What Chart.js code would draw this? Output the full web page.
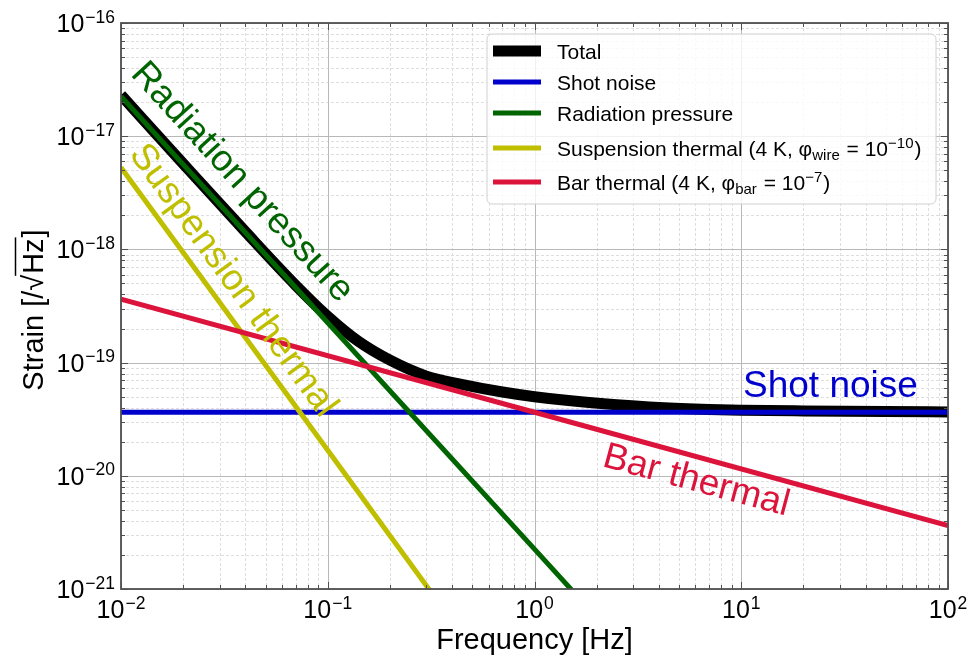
<!DOCTYPE html>
<html>
<head>
<meta charset="utf-8">
<script src="https://cdn.jsdelivr.net/npm/chart.js@4.4.0/dist/chart.umd.min.js"></script>
<style>
  html, body { margin: 0; padding: 0; background: #fff; }
  canvas { display: block; }
</style>
</head>
<body>
<canvas id="chart" width="974" height="657"></canvas>
<script>
// values (frequency in Hz, strain in 1/sqrt(Hz))
const totalFreq   = [0.01, 0.02, 0.04, 0.07, 0.1, 0.14, 0.2, 0.3, 0.45, 0.7, 1, 1.5, 2.5, 4, 7, 10, 20, 50, 100];
const totalStrain = [2.31e-17, 5.71e-18, 1.43e-18, 4.82e-19, 2.56e-19, 1.55e-19, 1.05e-19, 7.6e-20, 6.4e-20,
                     5.5e-20, 5.0e-20, 4.6e-20, 4.25e-20, 4.02e-20, 3.86e-20, 3.8e-20, 3.74e-20, 3.69e-20, 3.67e-20];
const shotFreq    = [0.01, 100];
const shotStrain  = [3.65e-20, 3.65e-20];
const radFreq     = [0.01, 0.1, 1, 2];
const radStrain   = [2.25e-17, 2.25e-19, 2.25e-21, 5.6e-22];
const suspFreq    = [0.01, 0.1, 0.4];
const suspStrain  = [5.3e-18, 1.68e-20, 5.2e-22];
const barFreq     = [0.01, 1, 100];
const barStrain   = [3.64e-19, 3.64e-20, 3.64e-21];

const xTickExps = [-2, -1, 0, 1, 2];
const yTickExps = [-21, -20, -19, -18, -17, -16];

const seriesNames  = ['Total', 'Shot noise', 'Radiation pressure', 'Suspension thermal', 'Bar thermal'];
const seriesColors = ['#000000', '#0000cd', '#006400', '#bfbf00', '#dc143c'];

// legend labels as text runs: n = normal, sub = subscript, sup = superscript
const legendRuns = [
  [['Total', 'n']],
  [['Shot noise', 'n']],
  [['Radiation pressure', 'n']],
  [['Suspension thermal (4 K, ', 'n'], ['φ', 'n'], ['wire', 'sub'], [' = 10', 'n'], ['−10', 'sup'], [')', 'n']],
  [['Bar thermal (4 K, ', 'n'], ['φ', 'n'], ['bar', 'sub'], [' = 10', 'n'], ['−7', 'sup'], [')', 'n']]
];

// in-plot labels: text, anchor (Hz, strain), rotation in degrees
const notes = [
  { text: 'Radiation pressure', f: 0.0385, s: 3.9e-18, rot: 47.6, color: seriesColors[2], align: 'center' },
  { text: 'Suspension thermal', f: 0.0348, s: 5.3e-19, rot: 54, color: seriesColors[3], align: 'center' },
  { text: 'Bar thermal', f: 6.05, s: 9.0e-21, rot: 15, color: seriesColors[4], align: 'center' },
  { text: 'Shot noise', f: 10.2, s: 4.98e-20, rot: 0, color: seriesColors[1], align: 'left' }
];

const FONT = '"Liberation Sans", Arial, Helvetica, sans-serif';
const pts = (fs, ss) => fs.map((f, i) => ({ x: f, y: ss[i] }));

function expText(e) { return e < 0 ? '−' + Math.abs(e) : String(e); }

function drawPow(ctx, e, x, base, align) {
  // 10 with a raised exponent
  ctx.font = '25px ' + FONT;
  const wb = ctx.measureText('10').width;
  ctx.font = '17.5px ' + FONT;
  const sup = expText(e);
  const ws = ctx.measureText(sup).width;
  const w = wb + ws + 1;
  const x0 = align === 'right' ? x - w : x - w / 2;
  ctx.textAlign = 'left';
  ctx.textBaseline = 'alphabetic';
  ctx.font = '25px ' + FONT;
  ctx.fillText('10', x0, base);
  ctx.font = '17.5px ' + FONT;
  ctx.fillText(sup, x0 + wb + 1, base - 9.5);
}

const decorations = {
  id: 'decorations',
  beforeDatasetsDraw(chart) {
    const { ctx, chartArea: a, scales: { x, y } } = chart;
    ctx.save();
    ctx.lineWidth = 1;
    // minor grid
    ctx.strokeStyle = '#dedede';
    ctx.setLineDash([3, 2]);
    ctx.beginPath();
    for (let i = 0; i < xTickExps.length - 1; i++) {
      for (let m = 2; m <= 9; m++) {
        const px = Math.round(x.getPixelForValue(m * Math.pow(10, xTickExps[i]))) + 0.5;
        ctx.moveTo(px, a.top); ctx.lineTo(px, a.bottom);
      }
    }
    for (let i = 0; i < yTickExps.length - 1; i++) {
      for (let m = 2; m <= 9; m++) {
        const py = Math.round(y.getPixelForValue(m * Math.pow(10, yTickExps[i]))) + 0.5;
        ctx.moveTo(a.left, py); ctx.lineTo(a.right, py);
      }
    }
    ctx.stroke();
    // major grid
    ctx.setLineDash([]);
    ctx.strokeStyle = '#b8b8b8';
    ctx.beginPath();
    xTickExps.forEach(e => {
      const px = Math.round(x.getPixelForValue(Math.pow(10, e))) + 0.5;
      ctx.moveTo(px, a.top); ctx.lineTo(px, a.bottom);
    });
    yTickExps.forEach(e => {
      const py = Math.round(y.getPixelForValue(Math.pow(10, e))) + 0.5;
      ctx.moveTo(a.left, py); ctx.lineTo(a.right, py);
    });
    ctx.stroke();
    ctx.restore();
  },
  afterDatasetsDraw(chart) {
    const { ctx, chartArea: a, scales: { x, y } } = chart;
    ctx.save();

    // in-plot labels
    notes.forEach(n => {
      ctx.save();
      ctx.translate(x.getPixelForValue(n.f), y.getPixelForValue(n.s));
      ctx.rotate(n.rot * Math.PI / 180);
      ctx.font = '37px ' + FONT;
      ctx.fillStyle = n.color;
      ctx.textAlign = n.align;
      ctx.textBaseline = n.align === 'left' ? 'alphabetic' : 'middle';
      ctx.fillText(n.text, 0, 0);
      ctx.restore();
    });

    // frame and inward ticks on all sides
    ctx.strokeStyle = '#505050';
    ctx.lineWidth = 1;
    ctx.beginPath();
    for (let i = 0; i < xTickExps.length; i++) {
      for (let m = 1; m <= (i < xTickExps.length - 1 ? 9 : 1); m++) {
        const px = Math.round(x.getPixelForValue(m * Math.pow(10, xTickExps[i]))) + 0.5;
        const len = m === 1 ? 7 : 4;
        ctx.moveTo(px, a.bottom); ctx.lineTo(px, a.bottom - len);
        ctx.moveTo(px, a.top); ctx.lineTo(px, a.top + len);
      }
    }
    for (let i = 0; i < yTickExps.length; i++) {
      for (let m = 1; m <= (i < yTickExps.length - 1 ? 9 : 1); m++) {
        const py = Math.round(y.getPixelForValue(m * Math.pow(10, yTickExps[i]))) + 0.5;
        const len = m === 1 ? 7 : 4;
        ctx.moveTo(a.left, py); ctx.lineTo(a.left + len, py);
        ctx.moveTo(a.right, py); ctx.lineTo(a.right - len, py);
      }
    }
    ctx.stroke();
    ctx.lineWidth = 1.8;
    ctx.strokeRect(a.left, a.top, a.right - a.left, a.bottom - a.top);

    // tick labels
    ctx.fillStyle = '#000';
    xTickExps.forEach(e => drawPow(ctx, e, x.getPixelForValue(Math.pow(10, e)), a.bottom + 29, 'center'));
    yTickExps.forEach(e => drawPow(ctx, e, a.left - 6, y.getPixelForValue(Math.pow(10, e)) + 9, 'right'));

    // axis titles
    ctx.font = '29px ' + FONT;
    ctx.textAlign = 'center';
    ctx.textBaseline = 'alphabetic';
    ctx.fillText('Frequency [Hz]', (a.left + a.right) / 2, 649);

    ctx.save();
    ctx.translate(43, (a.top + a.bottom) / 2 + 4);
    ctx.rotate(-Math.PI / 2);
    ctx.font = '29px ' + FONT;
    ctx.textAlign = 'left';
    const p1 = 'Strain [/', p2 = '√', p3 = 'Hz', p4 = ']';
    const w1 = ctx.measureText(p1).width, w2 = ctx.measureText(p2).width,
          w3 = ctx.measureText(p3).width, w4 = ctx.measureText(p4).width;
    let cx = -(w1 + w2 + w3 + w4 + 2) / 2;
    ctx.fillText(p1, cx, 0); cx += w1;
    ctx.fillText(p2, cx, 0); cx += w2;
    ctx.fillText(p3, cx + 1, 0);
    ctx.lineWidth = 1.5;
    ctx.strokeStyle = '#000';
    ctx.beginPath();
    ctx.moveTo(cx - 1, -27.5); ctx.lineTo(cx + w3 + 2, -27.5);
    ctx.stroke();
    cx += w3 + 2;
    ctx.fillText(p4, cx, 0);
    ctx.restore();

    // legend
    const lx = 487, ly = 34, lw = 449, lh = 170;
    ctx.beginPath();
    ctx.roundRect(lx, ly, lw, lh, 5);
    ctx.fillStyle = 'rgba(255,255,255,0.8)';
    ctx.fill();
    ctx.strokeStyle = '#d0d0d0';
    ctx.lineWidth = 1;
    ctx.stroke();
    const rowY = [51, 82, 113, 148, 182];
    chart.data.datasets.forEach((ds, i) => {
      const cy = rowY[i];
      ctx.strokeStyle = ds.borderColor;
      ctx.lineWidth = ds.borderWidth;
      ctx.beginPath();
      ctx.moveTo(493, cy); ctx.lineTo(541, cy);
      ctx.stroke();
      ctx.fillStyle = '#000';
      ctx.textAlign = 'left';
      ctx.textBaseline = 'alphabetic';
      let tx = 557;
      legendRuns[i].forEach(([t, kind]) => {
        const size = kind === 'n' ? 21 : 15;
        const dy = kind === 'sub' ? 4 : kind === 'sup' ? -8 : 0;
        ctx.font = size + 'px ' + FONT;
        ctx.fillText(t, tx, cy + 7.5 + dy);
        tx += ctx.measureText(t).width + (kind === 'n' ? 0 : 1);
      });
    });

    ctx.restore();
  }
};

const chart = new Chart(document.getElementById('chart'), {
  type: 'line',
  data: {
    datasets: [
      { label: seriesNames[0], data: pts(totalFreq, totalStrain), borderColor: seriesColors[0], borderWidth: 11, cubicInterpolationMode: 'monotone', order: 5 },
      { label: seriesNames[1], data: pts(shotFreq, shotStrain), borderColor: seriesColors[1], borderWidth: 5, order: 4 },
      { label: seriesNames[2], data: pts(radFreq, radStrain), borderColor: seriesColors[2], borderWidth: 5, order: 3 },
      { label: seriesNames[3], data: pts(suspFreq, suspStrain), borderColor: seriesColors[3], borderWidth: 5, order: 2 },
      { label: seriesNames[4], data: pts(barFreq, barStrain), borderColor: seriesColors[4], borderWidth: 5, order: 1 }
    ]
  },
  options: {
    responsive: false,
    devicePixelRatio: 1,
    animation: false,
    layout: { padding: { left: 121, right: 26, top: 23, bottom: 68 } },
    datasets: { line: { pointRadius: 0, fill: false, clip: 0, borderJoinStyle: 'round' } },
    plugins: { legend: { display: false }, tooltip: { enabled: false }, title: { display: false } },
    scales: {
      x: { type: 'logarithmic', min: 0.01, max: 100, display: false },
      y: { type: 'logarithmic', min: 1e-21, max: 1e-16, display: false }
    }
  },
  plugins: [decorations]
});
</script>
</body>
</html>
